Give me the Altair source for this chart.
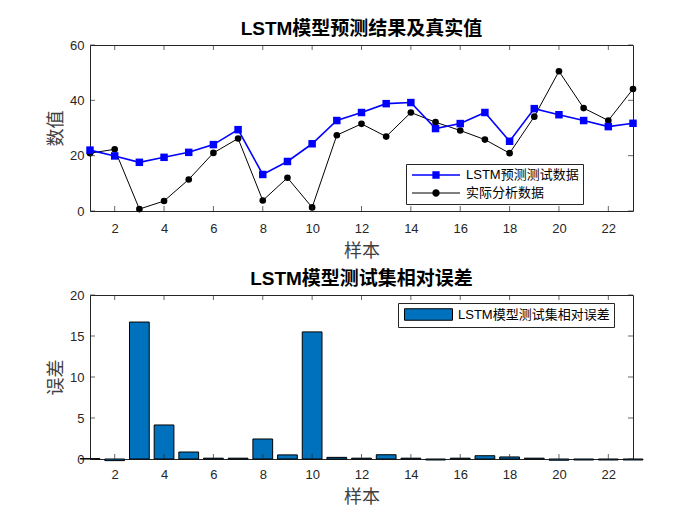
import altair as alt
import pandas as pd

# ---------------- data ----------------
samples = list(range(1, 24))
pred = [22.0, 19.9, 17.6, 19.4, 21.2, 24.0, 29.4, 13.2, 17.9, 24.3, 32.7, 35.6,
        38.8, 39.2, 29.8, 31.6, 35.6, 25.2, 37.0, 34.8, 32.7, 30.5, 31.7]
actual = [20.9, 22.3, 0.7, 3.6, 11.4, 21.0, 26.2, 3.8, 12.0, 1.3, 27.4, 31.5,
          26.9, 35.6, 32.1, 29.1, 25.8, 20.9, 34.1, 50.5, 37.2, 32.7, 44.1]
rel_err = [0.05, -0.2, 16.7, 4.15, 0.85, 0.1, 0.1, 2.44, 0.5, 15.5, 0.2, 0.1,
           0.52, 0.1, -0.12, 0.1, 0.4, 0.25, 0.1, -0.15, -0.12, -0.12, -0.12]
series_names = ["LSTM预测测试数据", "实际分析数据"]
err_name = "LSTM模型测试集相对误差"
x_ticks = [2, 4, 6, 8, 10, 12, 14, 16, 18, 20, 22]
y_ticks_top = [0, 20, 40, 60]
y_ticks_bot = [0, 5, 10, 15, 20]

# ---------------- styling ----------------
LAT = "Liberation Sans, Arial, Noto Sans CJK SC"
CJK = "Noto Sans CJK SC"
AX = "#262626"
W, H1, H2 = 543, 166, 164

rows = []
for s, p, a in zip(samples, pred, actual):
    rows.append({"sample": s, "value": p, "series": series_names[0]})
    rows.append({"sample": s, "value": a, "series": series_names[1]})
df = pd.DataFrame(rows)
df_err = pd.DataFrame({"sample": samples, "err": rel_err, "series": err_name})
df_xt = pd.DataFrame({"t": x_ticks})

xscale = alt.Scale(domain=[1, 23], nice=False, zero=False)


def x_axis(label_pad, title_pad):
    return alt.Axis(values=x_ticks, format="d", ticks=False, domain=False, grid=False,
                    labelFont=LAT, labelFontSize=13, labelColor=AX, labelPadding=label_pad,
                    title="样本", titleFont=CJK, titleFontSize=18, titleFontWeight="normal",
                    titleColor="#404040", titlePadding=title_pad)


def y_axis(vals, title):
    return alt.Axis(values=vals, format="d", ticks=False, domain=False, grid=False,
                    labelFont=LAT, labelFontSize=13, labelColor=AX, labelPadding=6,
                    title=title, titleFont=CJK, titleFontSize=18, titleFontWeight="normal",
                    titleColor="#404040", titlePadding=4)


def inner_ticks(yscale, ymin, ymax, yvals):
    bx = alt.Chart(df_xt).mark_tick(orient="vertical", color=AX, size=5, thickness=1, yOffset=-2.5).encode(
        x=alt.X("t:Q", scale=xscale), y=alt.datum(ymin, scale=yscale))
    tx = alt.Chart(df_xt).mark_tick(orient="vertical", color=AX, size=5, thickness=1, yOffset=2.5).encode(
        x=alt.X("t:Q", scale=xscale), y=alt.datum(ymax, scale=yscale))
    ly = alt.Chart(pd.DataFrame({"t": yvals})).mark_tick(orient="horizontal", color=AX, size=5, thickness=1, xOffset=2.5).encode(
        y=alt.Y("t:Q", scale=yscale), x=alt.datum(1, scale=xscale))
    ry = alt.Chart(pd.DataFrame({"t": yvals})).mark_tick(orient="horizontal", color=AX, size=5, thickness=1, xOffset=-2.5).encode(
        y=alt.Y("t:Q", scale=yscale), x=alt.datum(23, scale=xscale))
    return [bx, tx, ly, ry]


# ---------------- top chart ----------------
yscale1 = alt.Scale(domain=[0, 60], nice=False)
base = alt.Chart(df).encode(
    x=alt.X("sample:Q", scale=xscale, axis=x_axis(11, 7)),
    y=alt.Y("value:Q", scale=yscale1, axis=y_axis(y_ticks_top, "数值")),
)
pred_base = base.transform_filter(alt.datum.series == series_names[0])
act_base = base.transform_filter(alt.datum.series == series_names[1])

act_line = act_base.mark_line(color="#000000", strokeWidth=1)
act_pts = act_base.mark_circle(color="#000000", size=44, opacity=1)
pred_line = pred_base.mark_line(color="#0000FF", strokeWidth=1.6)
pred_pts = pred_base.mark_square(color="#0000FF", size=56, opacity=1)

# legend glyphs (unit = 7px with symbolSize 196): line stub + marker
sq_path = "M-3.43,-0.11H3.43V0.11H-3.43Z M-0.52,-0.52H0.52V0.52H-0.52Z"
ci_path = ("M-3.43,-0.075H3.43V0.075H-3.43Z M0.53,0 C0.53,0.293 0.293,0.53 0,0.53 "
           "C-0.293,0.53 -0.53,0.293 -0.53,0 C-0.53,-0.293 -0.293,-0.53 0,-0.53 "
           "C0.293,-0.53 0.53,-0.293 0.53,0 Z")

legend1 = alt.Legend(orient="none", legendX=316, legendY=119, title=None,
                     strokeColor=AX, fillColor="white", padding=4,
                     labelFont=LAT, labelFontSize=13, labelColor="#000000",
                     symbolSize=196, symbolOpacity=1, symbolStrokeWidth=0,
                     symbolOffset=19, rowPadding=4, labelOffset=23, labelLimit=300)

legend_layer = base.mark_point(filled=True, opacity=0).encode(
    shape=alt.Shape("series:N", scale=alt.Scale(domain=series_names, range=[sq_path, ci_path]),
                    legend=legend1),
    color=alt.Color("series:N", scale=alt.Scale(domain=series_names, range=["#0000FF", "#000000"]),
                    legend=legend1),
)

top = alt.layer(
    act_line, pred_line, act_pts, pred_pts, legend_layer,
    *inner_ticks(yscale1, 0, 60, y_ticks_top)
).properties(
    width=W, height=H1,
    title=alt.TitleParams("LSTM模型预测结果及真实值", font=LAT, fontSize=19,
                          fontWeight="bold", color="#000000", offset=0),
)

# ---------------- bottom chart ----------------
yscale2 = alt.Scale(domain=[0, 20], nice=False)
rect_path = "M-3.43,-0.82H3.43V0.82H-3.43Z"
legend2 = alt.Legend(orient="none", legendX=308, legendY=8, title=None,
                     strokeColor=AX, fillColor="white", padding=4,
                     labelFont=LAT, labelFontSize=13, labelColor="#000000",
                     symbolType=rect_path, symbolSize=196, symbolStrokeColor="#000000",
                     symbolStrokeWidth=1, symbolOffset=19, labelOffset=22, labelLimit=300)

bars = alt.Chart(df_err).transform_calculate(
    x0="datum.sample - 0.4", x1="datum.sample + 0.4"
).mark_bar(stroke="#000000", strokeWidth=1, opacity=1).encode(
    x=alt.X("x0:Q", scale=xscale, axis=x_axis(9, 7)),
    x2="x1:Q",
    y=alt.Y("err:Q", scale=yscale2, axis=y_axis(y_ticks_bot, "误差")),
    y2=alt.datum(0),
    color=alt.Color("series:N", scale=alt.Scale(domain=[err_name], range=["#0072BD"]), legend=legend2),
)

bottom = alt.layer(
    bars, *inner_ticks(yscale2, 0, 20, y_ticks_bot)
).properties(
    width=W, height=H2,
    title=alt.TitleParams(err_name, font=LAT, fontSize=19,
                          fontWeight="bold", color="#000000", offset=0),
)

chart = alt.vconcat(top, bottom, spacing=8).resolve_scale(
    color="independent", shape="independent"
).properties(
    padding={"left": 39, "top": 11, "right": 5, "bottom": 5},
    background="white",
).configure_view(
    stroke=AX, strokeWidth=1
)

chart.save("out.html", embed_options={"renderer": "svg", "actions": False})
